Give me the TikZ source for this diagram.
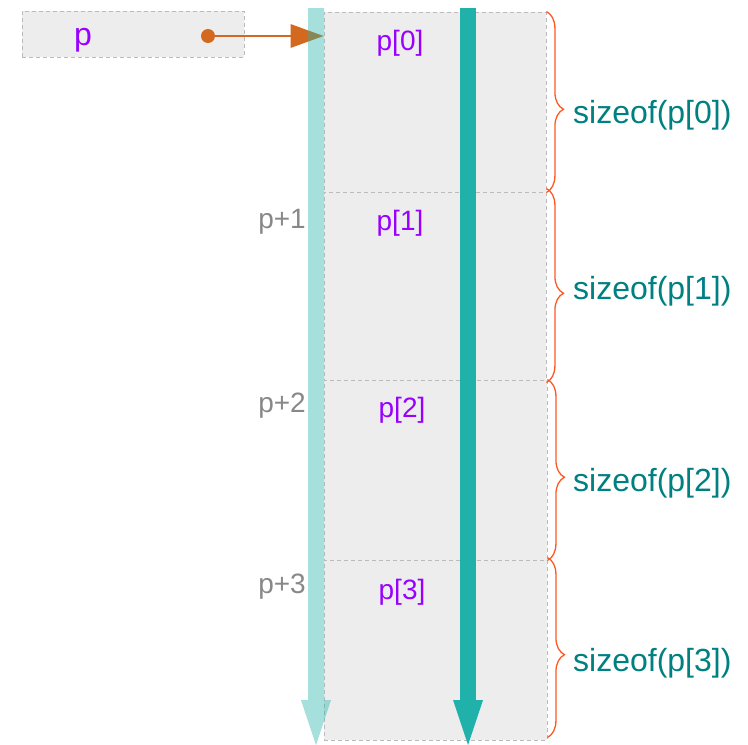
\documentclass[tikz,border=0pt]{standalone}
\usepackage{fontspec}
\setmainfont{Liberation Sans}
\usetikzlibrary{arrows.meta,decorations.pathreplacing,positioning}

\definecolor{cellgray}{HTML}{EDEDED}
\definecolor{edgegray}{HTML}{BBBBBB}
\definecolor{elempurple}{HTML}{9900FF}
\definecolor{offsetgray}{HTML}{888888}
\definecolor{sizeteal}{HTML}{008080}
\definecolor{braceorange}{HTML}{FF5722}
\definecolor{ptrorange}{HTML}{D2691E}
\definecolor{seagreen}{HTML}{20B2AA}

\tikzset{
  cell/.style={draw=edgegray, dash pattern=on 4pt off 3pt, line width=0.9pt,
    fill=cellgray, minimum width=222pt, inner sep=0pt},
  elem/.style={text=elempurple, font=\fontsize{28}{34}\selectfont, anchor=base, inner sep=0pt},
  offset/.style={text=offsetgray, font=\fontsize{28}{34}\selectfont, anchor=base east, inner sep=0pt},
  sizelabel/.style={text=sizeteal, font=\fontsize{32}{38}\selectfont, anchor=base west, inner sep=0pt},
  sizebrace/.style={draw=braceorange, line width=1.3pt,
    decorate, decoration={brace, amplitude=17pt, aspect=0.54}},
  ptrdot/.style={circle, fill=ptrorange, minimum size=14pt, inner sep=0pt},
  ptrarrow/.style={draw=ptrorange, line width=1.2pt,
    -{Triangle[length=33pt, width=24pt, line width=0pt]}},
  bigarrow/.style={draw=seagreen, line width=16pt,
    -{Triangle[length=45pt, width=30pt, line width=0pt]}},
}

\begin{document}
\begin{tikzpicture}[x=1pt, y=-1pt]
  \useasboundingbox (0,0) rectangle (748,745);

  % pointer variable
  \node[cell, minimum height=46pt] (ptr) at (133,34) {};
  \node[elem, font=\fontsize{32}{38}\selectfont] (pname) at (83,45) {p};
  \node[ptrdot] (pdot) at (208,36) {};

  % the array cells
  \node[cell, minimum height=180pt] (m0) at (435,102) {};
  \node[cell, minimum height=188pt] (m1) at (435,286) {};
  \node[cell, minimum height=180pt, minimum width=223pt] (m2) at (435.5,470) {};
  \node[cell, minimum height=180pt, minimum width=223pt] (m3) at (435.5,650) {};

  \node[elem] (e0) at (400,50)  {p[0]};
  \node[elem] (e1) at (400,230) {p[1]};
  \node[elem] (e2) at (402,417) {p[2]};
  \node[elem] (e3) at (402,599) {p[3]};

  \node[offset] (o1) at (306,228) {p+1};
  \node[offset] (o2) at (306,412) {p+2};
  \node[offset] (o3) at (306,593) {p+3};

  % sizes
  \draw[sizebrace] (m0.north east) -- (m0.south east);
  \draw[sizebrace] ([yshift=3pt]m1.north east) -- ([yshift=-2pt]m1.south east);
  \draw[sizebrace] (m2.north east) -- (m2.south east);
  \draw[sizebrace] ([yshift=2pt]m3.north east) -- ([yshift=3pt]m3.south east);

  \node[sizelabel] (s0) at (573,123) {sizeof(p[0])};
  \node[sizelabel] (s1) at (573,299) {sizeof(p[1])};
  \node[sizelabel] (s2) at (573,491) {sizeof(p[2])};
  \node[sizelabel] (s3) at (573,671) {sizeof(p[3])};

  % p points at p[0]
  \coordinate (ptip) at (pdot -| m0.west);
  \draw[ptrarrow] (pdot.center) -- (ptip);

  % stepping through the array
  \coordinate (ltop) at (316,8);
  \coordinate (lend) at (316,745);
  \coordinate (dtop) at (468,8);
  \coordinate (dend) at (468,745);
  \begin{scope}[transparency group, opacity=0.4]
    \draw[bigarrow] (ltop) -- (lend);
  \end{scope}
  \draw[bigarrow] (dtop) -- (dend);
\end{tikzpicture}
\end{document}
